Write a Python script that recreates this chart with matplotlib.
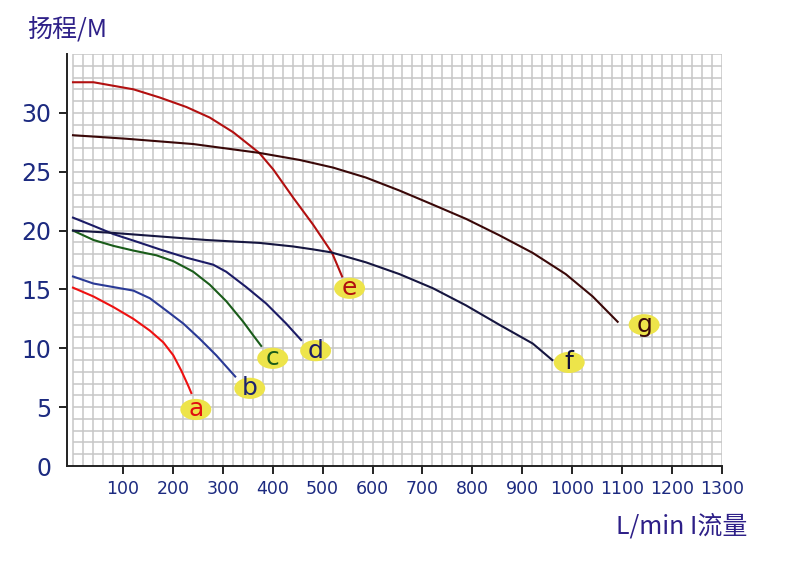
import matplotlib
matplotlib.use('Agg')
import matplotlib.pyplot as plt
from matplotlib.patches import Ellipse
import numpy as np

# pump curves: flow (L/min) vs head (m)
a_x = [0, 41, 81, 121, 154, 181, 201, 217, 231, 237]
a_y = [15.15, 14.4, 13.5, 12.5, 11.5, 10.5, 9.4, 8.1, 6.8, 6.2]
b_x = [0, 41, 81, 121, 154, 187, 221, 254, 287, 325]
b_y = [16.1, 15.5, 15.2, 14.9, 14.25, 13.2, 12.1, 10.8, 9.4, 7.6]
c_x = [0, 41, 81, 121, 167, 201, 241, 274, 307, 341, 361, 377]
c_y = [20.0, 19.2, 18.7, 18.3, 17.9, 17.4, 16.5, 15.4, 14.0, 12.25, 11.1, 10.2]
d_x = [0, 41, 81, 121, 174, 227, 281, 307, 347, 387, 427, 457]
d_y = [21.1, 20.4, 19.7, 19.15, 18.4, 17.7, 17.1, 16.5, 15.2, 13.8, 12.1, 10.7]
e_x = [0, 41, 81, 121, 174, 227, 274, 321, 373, 401, 441, 481, 519, 539]
e_y = [32.6, 32.6, 32.3, 32.0, 31.3, 30.5, 29.6, 28.35, 26.6, 25.2, 22.8, 20.5, 18.1, 16.1]
f_x = [0, 81, 174, 267, 374, 441, 481, 517, 587, 654, 721, 787, 854, 921, 960]
f_y = [20.0, 19.8, 19.5, 19.2, 18.95, 18.65, 18.4, 18.15, 17.3, 16.3, 15.1, 13.65, 12.0, 10.4, 9.0]
g_x = [0, 107, 241, 373, 454, 521, 587, 654, 721, 787, 854, 921, 987, 1041, 1091]
g_y = [28.1, 27.8, 27.35, 26.6, 26.0, 25.35, 24.5, 23.4, 22.2, 21.0, 19.6, 18.1, 16.3, 14.4, 12.25]

names = ['a', 'b', 'c', 'd', 'e', 'f', 'g']
label_x = [246, 354, 400, 486, 554, 994, 1144]
label_y = [4.8, 6.6, 9.15, 9.8, 15.1, 8.8, 12.0]

line_colors = ['#ee1111', '#2a3a96', '#1a5c1a', '#1c1c66', '#b21010', '#161640', '#3a0808']
text_colors = ['#e01010', '#1c2470', '#1a5a1a', '#1c1c66', '#b01010', '#101038', '#3a0a0a']

curves = [(a_x, a_y), (b_x, b_y), (c_x, c_y), (d_x, d_y), (e_x, e_y), (f_x, f_y), (g_x, g_y)]

fig = plt.figure(figsize=(8, 5.63), dpi=100)
ax = fig.add_axes([67 / 800, 97 / 563, (722 - 67) / 800, (466 - 54) / 563])
ax.set_xlim(-12, 1300)
ax.set_ylim(0, 35)

# graph paper
gcol = '#c6c6c6'
ax.vlines(np.arange(0, 1301, 20), 0, 35, colors=gcol, lw=1.1, zorder=1)
ax.hlines(np.arange(1, 36, 1), 0, 1300, colors=gcol, lw=1.1, zorder=1)

for (xs, ys), col in zip(curves, line_colors):
    ax.plot(xs, ys, color=col, lw=1.5, zorder=3, solid_joinstyle='round')

for n, lx, ly, tc in zip(names, label_x, label_y, text_colors):
    ax.add_patch(Ellipse((lx, ly), 62, 1.8, facecolor='#ede44a', edgecolor='none', zorder=4))
    ax.text(lx, ly, n, color=tc, fontsize=18, ha='center', va='center', zorder=5,
            family='DejaVu Sans')

for s in ['top', 'right']:
    ax.spines[s].set_visible(False)
for s in ['left', 'bottom']:
    ax.spines[s].set_color('#222222')
    ax.spines[s].set_linewidth(1.4)

ax.set_xticks(range(100, 1301, 100))
ax.set_yticks(range(0, 31, 5))
ax.tick_params(axis='x', labelsize=12.5, labelcolor='#1c2a80', length=6, width=1.4, color='#222222', pad=4)
ax.tick_params(axis='y', labelsize=17, labelcolor='#1c2a80', length=6, width=1.4, color='#222222', pad=5)
ax.yaxis.get_major_ticks()[0].tick1line.set_visible(False)

fam = ['Noto Sans CJK SC', 'DejaVu Sans']
fig.text(27 / 800, 1 - 30 / 563, '扬程/M', family=fam, fontsize=18, color='#2e2088',
         ha='left', va='center')
fig.text(747 / 800, 1 - 526 / 563, 'L/min I流量', family=fam, fontsize=18, color='#2e2088',
         ha='right', va='center')

fig.savefig('out.png', dpi=100)
